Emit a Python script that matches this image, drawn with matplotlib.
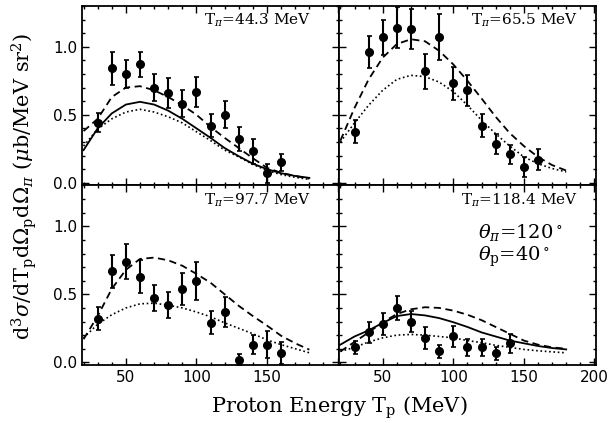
import matplotlib.pyplot as plt
import numpy as np

plt.rcParams['mathtext.fontset'] = 'dejavuserif'

# pion kinetic energies (one per panel)
t_pion = ['44.3', '65.5', '97.7', '118.4']

# measured points: proton energy (MeV), cross section, error
tp_pts = [30, 40, 50, 60, 70, 80, 90, 100, 110, 120, 130, 140, 150, 160]
tp_pts_118 = [30, 40, 50, 60, 70, 80, 90, 100, 110, 120, 130, 140]

y_443 = [0.44, 0.84, 0.80, 0.87, 0.70, 0.66, 0.58, 0.67, 0.42, 0.50, 0.32, 0.23, 0.07, 0.15]
e_443 = [0.07, 0.12, 0.10, 0.09, 0.10, 0.11, 0.10, 0.11, 0.085, 0.10, 0.09, 0.09, 0.07, 0.06]

y_655 = [0.375, 0.96, 1.07, 1.14, 1.13, 0.82, 1.07, 0.73, 0.68, 0.42, 0.285, 0.21, 0.115, 0.17]
e_655 = [0.085, 0.12, 0.13, 0.15, 0.15, 0.13, 0.17, 0.12, 0.115, 0.085, 0.07, 0.07, 0.075, 0.075]

y_977 = [0.32, 0.67, 0.74, 0.63, 0.47, 0.42, 0.54, 0.60, 0.29, 0.37, 0.02, 0.13, 0.13, 0.07]
e_977 = [0.085, 0.12, 0.13, 0.12, 0.095, 0.095, 0.12, 0.14, 0.085, 0.11, 0.04, 0.07, 0.10, 0.08]

y_1184 = [0.11, 0.22, 0.28, 0.40, 0.30, 0.18, 0.08, 0.19, 0.11, 0.11, 0.065, 0.14]
e_1184 = [0.05, 0.08, 0.08, 0.09, 0.08, 0.08, 0.05, 0.08, 0.06, 0.06, 0.05, 0.07]

# model curves, read every 10 MeV
tp_curve = [20, 30, 40, 50, 60, 70, 80, 90, 100, 110, 120, 130, 140, 150, 160, 170, 180]

solid_443 = [0.24, 0.40, 0.51, 0.575, 0.595, 0.575, 0.53, 0.47, 0.40, 0.33, 0.255, 0.195, 0.14, 0.10, 0.07, 0.05, 0.036]
dash_443 = [0.38, 0.47, 0.63, 0.70, 0.71, 0.68, 0.63, 0.57, 0.50, 0.41, 0.33, 0.255, 0.18, 0.11, 0.073, 0.05, 0.03]
dot_443 = [0.27, 0.395, 0.47, 0.52, 0.54, 0.52, 0.485, 0.44, 0.375, 0.31, 0.24, 0.19, 0.135, 0.09, 0.06, 0.04, 0.025]

dash_655 = [0.31, 0.55, 0.76, 0.92, 1.02, 1.055, 1.04, 0.97, 0.87, 0.75, 0.62, 0.485, 0.365, 0.27, 0.19, 0.13, 0.09]
dot_655 = [0.30, 0.44, 0.57, 0.68, 0.76, 0.79, 0.78, 0.74, 0.67, 0.57, 0.46, 0.36, 0.27, 0.19, 0.14, 0.105, 0.08]

dash_977 = [0.17, 0.34, 0.54, 0.68, 0.76, 0.77, 0.75, 0.71, 0.65, 0.585, 0.50, 0.415, 0.34, 0.27, 0.195, 0.14, 0.093]
dot_977 = [0.18, 0.28, 0.35, 0.40, 0.43, 0.435, 0.42, 0.40, 0.37, 0.335, 0.29, 0.25, 0.21, 0.165, 0.13, 0.10, 0.07]

solid_1184 = [0.13, 0.19, 0.235, 0.29, 0.34, 0.355, 0.345, 0.325, 0.295, 0.26, 0.22, 0.19, 0.16, 0.14, 0.12, 0.105, 0.095]
dash_1184 = [0.08, 0.15, 0.22, 0.295, 0.355, 0.39, 0.405, 0.40, 0.38, 0.35, 0.31, 0.26, 0.21, 0.16, 0.13, 0.11, 0.10]
dot_1184 = [0.08, 0.11, 0.15, 0.18, 0.20, 0.205, 0.20, 0.19, 0.18, 0.16, 0.145, 0.125, 0.11, 0.095, 0.085, 0.077, 0.07]

panels = [
    (tp_pts, y_443, e_443, solid_443, dash_443, dot_443),
    (tp_pts, y_655, e_655, None, dash_655, dot_655),
    (tp_pts, y_977, e_977, None, dash_977, dot_977),
    (tp_pts_118, y_1184, e_1184, solid_1184, dash_1184, dot_1184),
]
label_x = [0.89, 0.93, 0.89, 0.93]

fig, axs = plt.subplots(2, 2, figsize=(6.13, 4.23), dpi=100)
fig.subplots_adjust(left=0.134, right=0.972, top=0.986, bottom=0.137, wspace=0, hspace=0)

for i, ax in enumerate(axs.flat):
    tp, y, err, solid, dash, dot = panels[i]
    if solid is not None:
        ax.plot(tp_curve, solid, color='k', lw=1.3)
    ax.plot(tp_curve, dash, color='k', lw=1.3, dashes=(4, 2.5))
    ax.plot(tp_curve, dot, color='k', lw=1.2, linestyle=(0, (1, 1.6)))
    ax.errorbar(tp, y, yerr=err, fmt='o', color='k', ms=5.5, elinewidth=1.5, capsize=1.8, capthick=1.2)
    ax.text(label_x[i], 0.92, r'T$_\pi$=' + t_pion[i] + ' MeV', transform=ax.transAxes,
            ha='right', va='center', fontsize=11, family='DejaVu Serif')

    ax.set_xlim(19, 201)
    ax.set_ylim(-0.02, 1.3)
    ax.set_xticks([50, 100, 150, 200])
    ax.set_xticks(np.arange(20, 201, 10), minor=True)
    ax.set_yticks([0.0, 0.5, 1.0])
    ax.set_yticks(np.arange(0, 1.31, 0.1), minor=True)
    ax.yaxis.set_major_formatter(plt.FormatStrFormatter('%.1f'))
    ax.tick_params(which='both', direction='in', top=True, right=True, labelsize=11, width=1)
    ax.tick_params(which='major', length=5)
    ax.tick_params(which='minor', length=2.5)
    for s in ax.spines.values():
        s.set_linewidth(1.3)
    if i < 2:
        ax.tick_params(labelbottom=False)
    if i % 2 == 1:
        ax.tick_params(labelleft=False)

# left bottom panel shows no 200 label
axs[1, 0].set_xticklabels(['50', '100', '150', ''])

axs[1, 1].text(0.54, 0.74, r'$\theta_\pi$=120$^\circ$', transform=axs[1, 1].transAxes,
               fontsize=14, family='DejaVu Serif', va='center')
axs[1, 1].text(0.54, 0.60, r'$\theta_{\rm p}$=40$^\circ$', transform=axs[1, 1].transAxes,
               fontsize=14, family='DejaVu Serif', va='center')

fig.text(0.04, 0.56, r'd$^3\sigma$/dT$_{\rm p}$d$\Omega_{\rm p}$d$\Omega_\pi$ ($\mu$b/MeV sr$^2$)',
         rotation=90, ha='center', va='center', fontsize=15, family='DejaVu Serif')
fig.text(0.553, 0.035, r'Proton Energy T$_{\rm p}$ (MeV)', ha='center', va='center',
         fontsize=15, family='DejaVu Serif')

fig.savefig('out.png', dpi=100)
